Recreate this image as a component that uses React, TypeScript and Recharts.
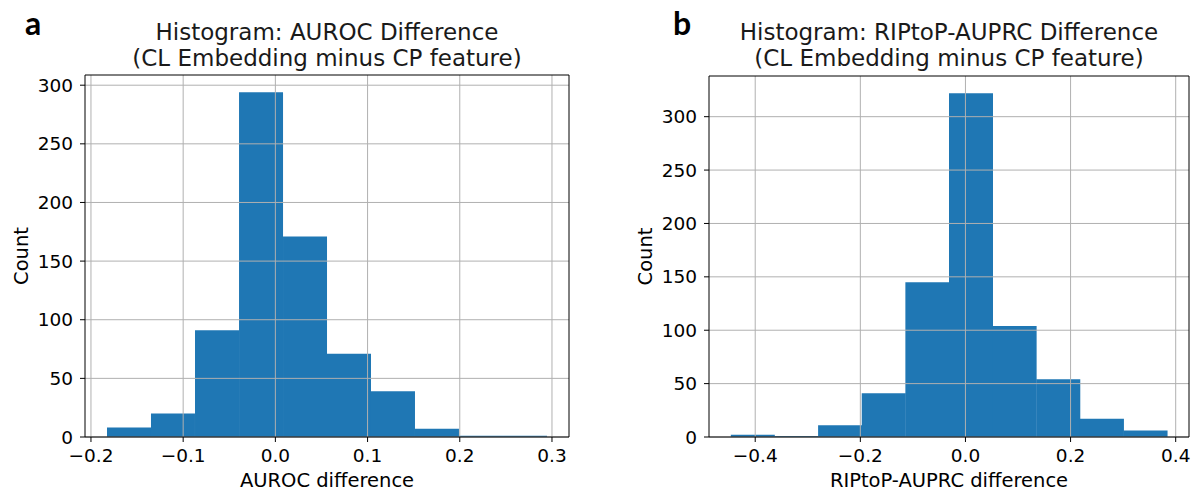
import { BarChart, Bar, XAxis, YAxis, ReferenceLine } from 'recharts';

// AUROC difference histogram (panel a)
const aurocEdges = [-0.1826, -0.1349, -0.0872, -0.0394, 0.0083, 0.056, 0.1037, 0.1514, 0.1991, 0.2469, 0.2946];
const aurocCounts = [8, 20, 91, 294, 171, 71, 39, 7, 1, 1];
const aurocTicks = [-0.2, -0.1, 0, 0.1, 0.2, 0.3];

// RIPtoP-AUPRC difference histogram (panel b)
const ripEdges = [-0.4464, -0.3634, -0.2804, -0.1973, -0.1143, -0.0313, 0.0517, 0.1347, 0.2178, 0.3008, 0.3838];
const ripCounts = [2, 1, 11, 41, 145, 322, 104, 54, 17, 6];
const ripTicks = [-0.4, -0.2, 0, 0.2, 0.4];

const countTicks = [0, 50, 100, 150, 200, 250, 300];

const FONT = '"DejaVu Sans", sans-serif';
const BLUE = '#1f77b4';
const GRID = '#b0b0b0';

const fmt = (v: number) => v.toFixed(1).replace('-', '\u2212');

interface HistProps {
  letter: string;
  title: string;
  xLabel: string;
  edges: number[];
  counts: number[];
  ticks: number[];
  width: number;
  yAxisWidth: number;
  marginRight: number;
  marginTop: number;
  letterX: number;
}

function Histogram({ letter, title, xLabel, edges, counts, ticks, width, yAxisWidth, marginRight, marginTop, letterX }: HistProps) {
  const data = counts.map((count, i) => ({ mid: (edges[i] + edges[i + 1]) / 2, count }));
  const span = edges[edges.length - 1] - edges[0];
  const xDomain = [edges[0] - 0.05 * span, edges[edges.length - 1] + 0.05 * span];
  const yDomain = [0, Math.max(...counts) * 1.05];
  const center = yAxisWidth + (width - yAxisWidth - marginRight) / 2;

  return (
    <div style={{ position: 'relative', width, height: 493 }}>
      <BarChart
        width={width}
        height={493}
        data={data}
        margin={{ top: marginTop, right: marginRight, bottom: 0, left: 0 }}
        barCategoryGap={0}
        barGap={0}
        style={{ fontFamily: FONT }}
      >
        <XAxis
          type="number"
          dataKey="mid"
          domain={xDomain}
          ticks={ticks}
          allowDataOverflow
          tickFormatter={fmt}
          height={56}
          tickSize={5}
          tickMargin={7}
          axisLine={{ stroke: '#000' }}
          tickLine={{ stroke: '#000' }}
          tick={{ fill: '#000', fontSize: 18.5, fontFamily: FONT }}
          label={{
            content: ({ viewBox }: any) => (
              <text x={viewBox.x + viewBox.width / 2} y={viewBox.y + 50} textAnchor="middle" fontSize={19.5} fontFamily={FONT} fill="#000">
                {xLabel}
              </text>
            ),
          }}
        />
        <YAxis
          type="number"
          domain={yDomain}
          ticks={countTicks}
          allowDataOverflow
          width={yAxisWidth}
          tickSize={5}
          tickMargin={7}
          axisLine={{ stroke: '#000' }}
          tickLine={{ stroke: '#000' }}
          tick={{ fill: '#000', fontSize: 18.5, fontFamily: FONT }}
          label={{
            content: ({ viewBox }: any) => {
              const x = viewBox.x + viewBox.width - 64;
              const y = viewBox.y + viewBox.height / 2;
              return (
                <text x={x} y={y} transform={`rotate(-90, ${x}, ${y})`} textAnchor="middle" dominantBaseline="central" fontSize={19.5} fontFamily={FONT} fill="#000">
                  Count
                </text>
              );
            },
          }}
        />
        <Bar dataKey="count" fill={BLUE} isAnimationActive={false} />
        {ticks.map((t) => (
          <ReferenceLine key={`x${t}`} x={t} stroke={GRID} strokeWidth={1} />
        ))}
        {countTicks.map((t) => (
          <ReferenceLine key={`y${t}`} y={t} stroke={GRID} strokeWidth={1} />
        ))}
        {/* top and right spines */}
        <ReferenceLine y={yDomain[1]} stroke="#000" strokeWidth={1} />
        <ReferenceLine x={xDomain[1]} stroke="#000" strokeWidth={1} />
      </BarChart>
      <svg width={width} height={80} style={{ position: 'absolute', left: 0, top: 0, pointerEvents: 'none' }}>
        <text x={letterX} y={35} fontSize={32} fontWeight="bold" fontFamily='Lato, "Open Sans", sans-serif' fill="#000">
          {letter}
        </text>
        <text x={center} y={40} textAnchor="middle" fontSize={23} fontFamily={FONT} fill="#1a1a1a">
          {title}
        </text>
        <text x={center} y={66} textAnchor="middle" fontSize={23} fontFamily={FONT} fill="#1a1a1a">
          (CL Embedding minus CP feature)
        </text>
      </svg>
    </div>
  );
}

export default function App() {
  return (
    <div style={{ position: 'absolute', left: 0, top: 0, width: 1204, height: 493, background: '#fff', display: 'flex' }}>
      <Histogram
        letter="a"
        title="Histogram: AUROC Difference"
        xLabel="AUROC difference"
        edges={aurocEdges}
        counts={aurocCounts}
        ticks={aurocTicks}
        width={600}
        yAxisWidth={85}
        marginRight={31}
        marginTop={75}
        letterX={25}
      />
      <Histogram
        letter="b"
        title="Histogram: RIPtoP-AUPRC Difference"
        xLabel="RIPtoP-AUPRC difference"
        edges={ripEdges}
        counts={ripCounts}
        ticks={ripTicks}
        width={604}
        yAxisWidth={109}
        marginRight={15}
        marginTop={76}
        letterX={73}
      />
    </div>
  );
}
